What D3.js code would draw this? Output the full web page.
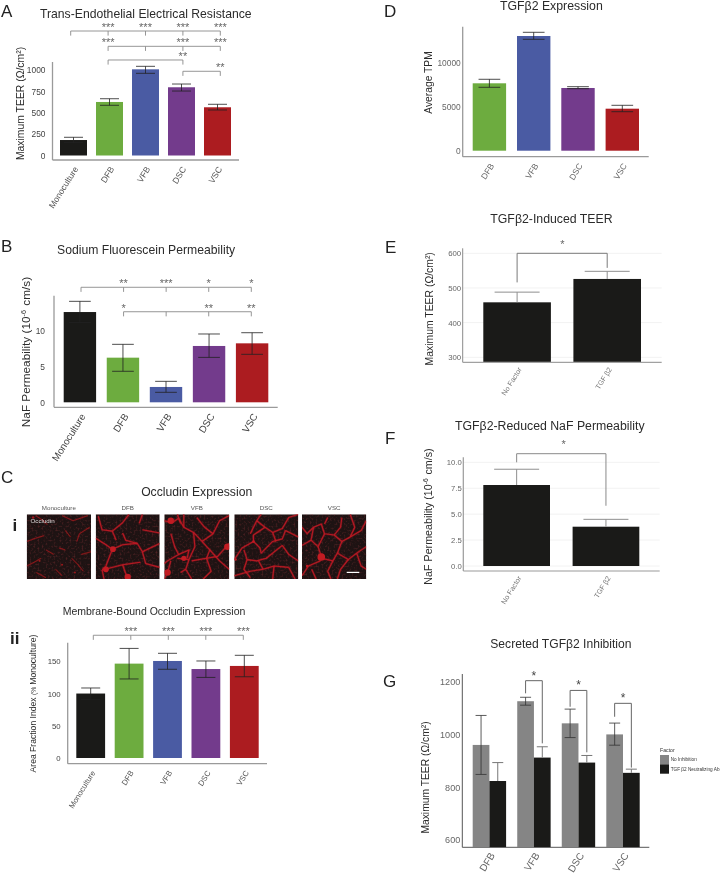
<!DOCTYPE html>
<html><head><meta charset="utf-8">
<script src="https://cdn.jsdelivr.net/npm/d3@7"></script>
<style>
html,body{margin:0;padding:0;background:#fff}
svg{display:block;filter:blur(.35px)}
text{font-family:"Liberation Sans",Arial,sans-serif}
</style></head><body>
<svg id="fig" width="726" height="875"></svg>
<script>
// ---------- data ----------
const cellTypes = ["Monoculture","DFB","VFB","DSC","VSC"];
const stromalTypes = ["DFB","VFB","DSC","VSC"];
const factorTypes = ["No Factor","TGF β2"];
const inhibitionFactors = ["No Inhibition","TGF β2 Neutralizing Ab"];

const teerMean = [181,626,1008,798,564];
const teerHigh = [213,664,1043,836,599];
const teerLow  = [150,587,961,754,532];

const nafMean = [12.66,6.26,2.15,7.9,8.27];
const nafHigh = [14.16,8.13,2.94,9.58,9.76];
const nafLow  = [11.2,4.35,1.4,6.3,6.73];

const occMean = [100,146.4,150.5,138,142.8];
const occHigh = [108.6,170,162.4,150.5,159.3];
const occLow  = [91,122.6,137.6,125,126];

const tpmMean = [7685,13079,7150,4790];
const tpmHigh = [8142,13500,7300,5177];
const tpmLow  = [7229,12700,7070,4447];

const inducedMean = [458.6,526];
const inducedHigh = [488,548];
const reducedMean = [7.81,3.79];
const reducedHigh = [9.33,4.5];

const noInhibMean = [961,1127,1043,1001];
const noInhibHigh = [1073,1142,1097,1044];
const noInhibLow  = [849,1112,989,960];
const abMean = [824,913,894,855];
const abHigh = [894,954,921,869];

// significance brackets: height in axis units, drop positions and stars by category index
const teerSig = [
  {level:1456, from:0, to:4, drops:[0,1,2,3,4], stars:[[1,"***"],[2,"***"],[3,"***"],[4,"***"]]},
  {level:1277, from:1, to:4, drops:[1,2,3,4], stars:[[1,"***"],[3,"***"],[4,"***"]]},
  {level:1117, from:1, to:3, drops:[1,3], stars:[[3,"**"]]},
  {level:985,  from:3, to:4, drops:[3,4], stars:[[4,"**"]]}
];
const nafSig = [
  {level:16.13, from:0, to:4, drops:[0,1,2,3,4], stars:[[1,"**"],[2,"***"],[3,"*"],[4,"*"]]},
  {level:12.7,  from:1, to:4, drops:[1,2,3,4], stars:[[1,"*"],[3,"**"],[4,"**"]]}
];
const occSig = [
  {level:190.4, from:0, to:4, drops:[0,1,2,3,4], stars:[[1,"***"],[2,"***"],[3,"***"],[4,"***"]]}
];
const inducedSig = {level:600, leftEnd:516, rightEnd:558};
const reducedSig = {level:10.83, leftEnd:10, rightEnd:5.81};
const inhibSig = [
  {cat:"VFB", level:1205, leftEnd:1157, rightEnd:967},
  {cat:"DSC", level:1168, leftEnd:1106, rightEnd:933},
  {cat:"VSC", level:1119, leftEnd:1068, rightEnd:875}
];

// occludin micrographs: membrane traces in unit-square coordinates
const micrographLabels = cellTypes;
const micrographTraces = [
 [[[0,.42],[.14,.37],[.27,.33]],[[.14,.02],[.26,.1],[.32,.16]],[[.55,.02],[.72,.1],[.95,.02]],[[.98,.2],[.82,.3],[.78,.42]],[[.7,.68],[.8,.78],[.88,.88]],[[0,.8],[.12,.74],[.22,.68]],[[.3,.55],[.42,.62]],[[.45,.85],[.55,.95]],[[.6,.25],[.68,.35]],[[.15,.9],[.3,.98]],[[.85,.62],[1,.58]],[[.5,.52],[.6,.55]]],
 [[[.04,.03],[.1,.24],[.26,.26],[.42,.13],[.52,0]],[[.26,.26],[.32,.4]],[[0,.37],[.13,.45],[.26,.54],[.42,.47],[.65,.45],[.73,.58],[.78,.76],[1,.82]],[[.26,.54],[.16,.8],[.1,.86]],[[.1,.86],[.42,.78],[.7,.74]],[[.65,.45],[.47,.4],[.42,.29]],[[.68,.14],[.73,0]],[[.73,.24],[1,.29]],[[.73,.58],[1,.45]],[[.1,.86],[.13,1]],[[.42,.78],[.5,1]]],
 [[[0,.1],[.12,.13],[.22,.06],[.3,.2],[.45,.28],[.58,.42],[.7,.55],[.85,.72],[1,.85]],[[.2,0],[.25,.14]],[[.45,.28],[.47,.5],[.38,.7],[.33,.85],[.42,1]],[[.1,.3],[.16,.5],[.22,.62],[.05,.72],[0,.76]],[[.22,.62],[.38,.55],[.35,.68]],[[.38,.7],[.2,.68]],[[.7,.55],[.65,.68],[.42,.72]],[[.65,.68],[.82,.65],[1,.45]],[[.58,.42],[.75,.3],[.85,.1],[1,.02]],[[.3,0],[.3,.2]],[[.5,.05],[.62,.2],[.75,.3]],[[.1,.72],[.05,.9],[0,1]],[[.65,.68],[.72,.88],[.6,1]],[[.25,.9],[.33,.85]]],
 [[[.25,.3],[.35,.1],[.42,0]],[[.35,.1],[.48,.2],[.6,.28],[.75,.22],[.85,.05],[1,0]],[[.48,.2],[.3,.32],[.3,.42],[.4,.52],[.42,.6],[.6,.42],[.75,.38],[.8,.25]],[[.6,.28],[.65,.42]],[[.3,.42],[.12,.52],[0,.7]],[[.15,.55],[.2,.7],[.35,.72],[.5,.68],[.75,.48]],[[.2,.7],[.15,.85],[.25,.98]],[[0,.95],[.25,.88],[.45,.85],[.62,.8],[.85,.82]],[[.45,.85],[.38,.72]],[[.75,.48],[.85,.62],[1,.72]],[[.85,.82],[.95,1]],[[.62,.8],[.6,1]],[[.8,.25],[1,.35]]],
 [[[0,.2],[.08,.3],[.18,.2],[.3,.15],[.35,.3],[.5,.32],[.6,.2],[.62,.05]],[[.18,.2],[.14,.4],[.25,.5],[.35,.3]],[[.14,.4],[0,.48]],[[.25,.5],[.3,.65],[.28,.72],[.1,.8],[0,.95]],[[.5,.32],[.62,.42],[.55,.6],[.48,.72],[.3,.68]],[[.62,.42],[.75,.35],[.92,.25],[1,.1]],[[.75,.35],[.82,.2],[.75,0]],[[.55,.6],[.72,.7],[.85,.6],[1,.5]],[[.72,.7],[.6,.85],[.55,1]],[[.48,.72],[.4,.88],[.45,1]],[[.85,.6],[.92,.8],[1,.85]],[[.15,.85],[.22,1]],[[.4,.05],[.35,.15]]]
];
const micrographBlobs = [
 [[.1,.05,.02],[.55,.78,.015],[.2,.72,.015],[.75,.9,.015]],
 [[.27,.54,.045],[.16,.85,.045],[.5,.97,.05]],
 [[.05,.9,.05],[.97,.5,.05],[.1,.1,.05],[.3,.68,.04]],
 [[.02,.7,.02],[.3,.42,.02]],
 [[.3,.66,.06],[.08,.8,.02]]
];

// ---------- styling and layout ----------
const barColors = {Monoculture:"#1a1a18",DFB:"#6dac3f",VFB:"#4a5ba3",DSC:"#733b8c",VSC:"#ac1c20"};
const black = "#1a1a18", grey = "#858585";
const svg = d3.select("#fig");
const FONT = '"Liberation Sans",Arial,sans-serif';

function label(x,y,t,size,opts={}){
  return svg.append("text").attr("x",x).attr("y",y).attr("font-size",size)
    .attr("fill",opts.fill||"#2b2b2b").attr("font-weight",opts.weight||null)
    .attr("text-anchor",opts.anchor||"start").text(t);
}
function yTitle(x,cy,parts,size,fill){
  const t = svg.append("text").attr("transform",`translate(${x},${cy}) rotate(-90)`)
    .attr("text-anchor","middle").attr("font-size",size).attr("fill",fill||"#2b2b2b");
  parts.forEach(p=>{
    if(typeof p==="string"){ t.append("tspan").text(p); return; }
    if(p.raised!==undefined){
      t.append("tspan").attr("dy",-size*.33).attr("font-size",size*.62).text(p.raised);
      t.append("tspan").attr("dy",size*.33).text("\u200a");
    } else {
      t.append("tspan").attr("font-size",size*p.ratio).text(p.shrunk);
    }
  });
}
function axes(g,o,x,y){
  g.append("line").attr("x1",o.axisX).attr("x2",o.axisX).attr("y1",o.axisTop).attr("y2",o.axisY)
    .attr("stroke",o.axisColor).attr("stroke-width",o.axisWidth);
  g.append("line").attr("x1",o.axisX).attr("x2",o.axisRight).attr("y1",o.axisY).attr("y2",o.axisY)
    .attr("stroke",o.axisColor).attr("stroke-width",o.axisWidth);
  const ya = d3.axisLeft(y).tickValues(o.yTicks).tickSize(o.tick||0).tickPadding(o.tickPad)
    .tickFormat(o.yFormat||d3.format("d"));
  const yg = g.append("g").attr("transform",`translate(${o.axisX},0)`).call(ya);
  yg.select(".domain").remove();
  yg.selectAll("line").attr("stroke",o.axisColor);
  yg.selectAll("text").attr("font-family",FONT).attr("font-size",o.yFont).attr("fill",o.yFill);
  const xa = d3.axisBottom(x).tickSize(0);
  const xg = g.append("g").attr("transform",`translate(0,${o.axisY})`).call(xa);
  xg.select(".domain").remove();
  xg.selectAll("text").attr("font-family",FONT).attr("font-size",o.xFont).attr("fill",o.xFill)
    .attr("text-anchor","end").attr("x",0).attr("y",0).attr("dy",0)
    .attr("transform",`translate(${o.xdx},${o.xdy}) rotate(${o.xRot||-58})`);
}
function errorBars(g,data,x,y,cap,color,op){
  const e = g.append("g").attr("stroke",color).attr("stroke-opacity",op).attr("stroke-width",1);
  data.forEach(d=>{
    const c = x(d.key);
    e.append("line").attr("x1",c).attr("x2",c).attr("y1",y(d.high)).attr("y2",y(d.low));
    e.append("line").attr("x1",c-cap/2).attr("x2",c+cap/2).attr("y1",y(d.high)).attr("y2",y(d.high));
    if(d.low!==d.mean) e.append("line").attr("x1",c-cap/2).attr("x2",c+cap/2).attr("y1",y(d.low)).attr("y2",y(d.low));
  });
}
function bars(g,data,x,y,base,colorOf){
  g.selectAll(null).data(data).join("rect")
    .attr("x",d=>x(d.key)).attr("width",x.bandwidth())
    .attr("y",d=>y(d.mean)).attr("height",d=>y(base)-y(d.mean))
    .attr("fill",d=>colorOf(d));
}
function sigStars(g,sig,bx,y,starGap,color){
  sig.forEach(s=>{
    const ly = y(s.level);
    g.append("line").attr("x1",bx(s.from)).attr("x2",bx(s.to)).attr("y1",ly).attr("y2",ly)
      .attr("stroke",color).attr("stroke-width",.9);
    s.drops.forEach(i=>g.append("line").attr("x1",bx(i)).attr("x2",bx(i)).attr("y1",ly).attr("y2",ly+4.6)
      .attr("stroke",color).attr("stroke-width",.9));
    s.stars.forEach(([i,t])=>g.append("text").attr("x",bx(i)).attr("y",ly-starGap)
      .attr("text-anchor","middle").attr("font-size",11).attr("fill","#666").text(t));
  });
}
function elbow(g,xl,xr,yTop,yL,yR,color,w){
  g.append("path").attr("fill","none").attr("stroke",color).attr("stroke-width",w)
    .attr("d",d3.line()([[xl,yL],[xl,yTop],[xr,yTop],[xr,yR]]));
}
function rows(keys,mean,high,low){return keys.map((k,i)=>({key:k,mean:mean[i],high:high[i],low:low?low[i]:mean[i]}));}
function centre(b){return k=>b(k)+b.bandwidth()/2;}
function band(keys,left,right,barW){
  const n=keys.length, step=(right-left-barW)/(n-1);
  return d3.scaleBand().domain(keys).range([left,right]).paddingInner(1-barW/step).paddingOuter(0);
}

// ---------- A ----------
(function(){
  const g=svg.append("g");
  const x=band(cellTypes,60,231,27), y=d3.scaleLinear().domain([0,1000]).range([155.5,70]);
  const d=rows(cellTypes,teerMean,teerHigh,teerLow);
  axes(g,{axisX:52.5,axisTop:62,axisY:160,axisRight:239,axisColor:"#9a9a9a",axisWidth:1.3,yTicks:[0,250,500,750,1000],
    tickPad:7,yFont:8.4,yFill:"#444",xFont:8.6,xFill:"#555",xdx:5,xdy:9},x,y);
  bars(g,d,x,y,0,r=>barColors[r.key]);
  errorBars(g,d,centre(x),y,19,"#222",.8);
  sigStars(g,teerSig,d3.scaleLinear().domain([0,4]).range([70.7,220.3]),y,0,"#8a8a8a");
  label(40,18,"Trans-Endothelial Electrical Resistance",12.2);
  label(1,17,"A",17,{fill:"#222"});
  yTitle(24,103.5,["Maximum TEER (Ω/cm²)"],10.4);
})();
// ---------- B ----------
(function(){
  const g=svg.append("g");
  const x=band(cellTypes,63.7,268.3,32.4), y=d3.scaleLinear().domain([0,10]).range([402.3,331]);
  const d=rows(cellTypes,nafMean,nafHigh,nafLow);
  axes(g,{axisX:54,axisTop:295.7,axisY:407.3,axisRight:277.7,axisColor:"#9a9a9a",axisWidth:1.3,yTicks:[0,5,10],
    tickPad:9,yFont:8.4,yFill:"#444",xFont:9.8,xFill:"#444",xdx:6,xdy:9},x,y);
  bars(g,d,x,y,0,r=>barColors[r.key]);
  errorBars(g,d,centre(x),y,21.7,"#222",.8);
  sigStars(g,nafSig,d3.scaleLinear().domain([0,4]).range([81,251.3]),y,0,"#8a8a8a");
  label(57,254,"Sodium Fluorescein Permeability",12.2);
  label(1,251.5,"B",17,{fill:"#222"});
  yTitle(30,352,["NaF Permeability (10",{raised:"-6"}," cm/s)"],11.8);
})();
// ---------- C i ----------
(function(){
  const defs=svg.append("defs");
  const f=defs.append("filter").attr("id","speckle").attr("x",0).attr("y",0).attr("width","100%").attr("height","100%");
  f.append("feTurbulence").attr("type","fractalNoise").attr("baseFrequency",.5).attr("numOctaves",2).attr("seed",4);
  f.append("feColorMatrix").attr("values","0 0 0 0 .42  0 0 0 0 .05  0 0 0 0 .06  2 0 0 0 -.95");
  const s=defs.append("filter").attr("id","soft").attr("x","-10%").attr("y","-10%").attr("width","120%").attr("height","120%");
  s.append("feGaussianBlur").attr("stdDeviation",.6);
  const panelX=[26.7,95.7,164.3,234.3,302], w=[64.3,64,65,64,64.3], top=514.3, h=64.7;
  const line=d3.line().curve(d3.curveLinear);
  micrographLabels.forEach((name,i)=>{
    const sx=d3.scaleLinear().domain([0,1]).range([panelX[i],panelX[i]+w[i]]);
    const sy=d3.scaleLinear().domain([0,1]).range([top,top+h]);
    const cid="clipM"+i;
    defs.append("clipPath").attr("id",cid).append("rect").attr("x",panelX[i]).attr("y",top).attr("width",w[i]).attr("height",h);
    const g=svg.append("g").attr("clip-path",`url(#${cid})`);
    g.append("rect").attr("x",panelX[i]).attr("y",top).attr("width",w[i]).attr("height",h).attr("fill","#1d1313");
    g.append("rect").attr("x",panelX[i]).attr("y",top).attr("width",w[i]).attr("height",h).attr("filter","url(#speckle)").attr("opacity",.45);
    const m=g.append("g").attr("filter","url(#soft)");
    const tone=i===0?"#9e181c":"#c21a24";
    [[2.4,.3],[1.1,.9]].forEach(([sw,op])=>{
      m.append("g").selectAll("path").data(micrographTraces[i]).join("path").attr("fill","none")
        .attr("stroke",tone).attr("stroke-opacity",op).attr("stroke-width",i===0?sw*.7:sw).attr("stroke-linejoin","round")
        .attr("d",t=>line(t.map(p=>[sx(p[0]),sy(p[1])])));
    });
    m.append("g").selectAll("circle").data(micrographBlobs[i]).join("circle")
      .attr("cx",b=>sx(b[0])).attr("cy",b=>sy(b[1])).attr("r",b=>b[2]*w[i]).attr("fill",tone);
    label(panelX[i]+w[i]/2,509.6,name,6.2,{anchor:"middle",fill:"#555"});
  });
  label(30.5,522.5,"Occludin",6.2,{fill:"#ddd"});
  svg.append("line").attr("x1",346.7).attr("x2",359.3).attr("y1",572.4).attr("y2",572.4).attr("stroke","#fff").attr("stroke-width",1.2);
  label(1,482.5,"C",17,{fill:"#222"});
  label(196.7,496,"Occludin Expression",12.2,{anchor:"middle"});
  label(12.5,531,"i",17,{weight:"bold",fill:"#222"});
})();
// ---------- C ii ----------
(function(){
  const g=svg.append("g");
  const x=band(cellTypes,76.3,258.7,28.8), y=d3.scaleLinear().domain([0,150]).range([758,661.3]);
  const d=rows(cellTypes,occMean,occHigh,occLow);
  axes(g,{axisX:67.7,axisTop:642.7,axisY:763.7,axisRight:267,axisColor:"#9a9a9a",axisWidth:1.3,yTicks:[0,50,100,150],
    tickPad:7,yFont:7.8,yFill:"#444",xFont:7.8,xFill:"#555",xdx:5,xdy:9},x,y);
  bars(g,d,x,y,0,r=>barColors[r.key]);
  errorBars(g,d,centre(x),y,19,"#222",.8);
  sigStars(g,occSig,d3.scaleLinear().domain([0,4]).range([93.3,243.3]),y,0,"#8a8a8a");
  label(62.7,614.7,"Membrane-Bound Occludin Expression",10.5);
  label(10,644,"ii",17,{weight:"bold",fill:"#222"});
  yTitle(36,703.5,["Area Fraction Index ",{shrunk:"(% ",ratio:.8},"Monoculture)"],8.6);
})();
// ---------- D ----------
(function(){
  const g=svg.append("g");
  const x=band(stromalTypes,472.7,639,33.4), y=d3.scaleLinear().domain([0,10000]).range([150.7,63]);
  const d=rows(stromalTypes,tpmMean,tpmHigh,tpmLow);
  axes(g,{axisX:462.7,axisTop:26.7,axisY:156.7,axisRight:648.7,axisColor:"#9a9a9a",axisWidth:1.3,yTicks:[0,5000,10000],
    tickPad:2,yFont:8.4,yFill:"#666",xFont:8.4,xFill:"#666",xdx:5,xdy:9},x,y);
  bars(g,d,x,y,0,r=>barColors[r.key]);
  errorBars(g,d,centre(x),y,21.7,"#222",.8);
  label(500,10,"TGFβ2 Expression",12.3);
  label(384,17,"D",17,{fill:"#222"});
  yTitle(431.5,82.5,["Average TPM"],10.3);
})();
// ---------- E ----------
(function(){
  const g=svg.append("g");
  const x=band(factorTypes,483.3,641,67.6), y=d3.scaleLinear().domain([300,600]).range([357.3,253.3]);
  const d=rows(factorTypes,inducedMean,inducedHigh);
  [300,400,500,600].forEach(v=>g.append("line").attr("x1",462.7).attr("x2",661.7).attr("y1",y(v)).attr("y2",y(v)).attr("stroke","#f2f2f2"));
  axes(g,{axisX:462.7,axisTop:248.3,axisY:362.3,axisRight:661.7,axisColor:"#8a8a8a",axisWidth:1,yTicks:[300,400,500,600],
    tickPad:1.5,yFont:7.8,yFill:"#666",xFont:7.2,xFill:"#777",xdx:5,xdy:7},x,y);
  bars(g,d,x,y,287,()=>black);
  errorBars(g,d,centre(x),y,45,"#8f8f8f",1);
  const c=centre(x);
  elbow(g,c(factorTypes[0]),c(factorTypes[1]),y(inducedSig.level),y(inducedSig.leftEnd),y(inducedSig.rightEnd),"#7a7a7a",1);
  label(562.3,248,"*",11,{anchor:"middle",fill:"#666"});
  label(490.3,222.7,"TGFβ2-Induced TEER",12.3);
  label(385,252.5,"E",17,{fill:"#222"});
  yTitle(433,308.8,["Maximum TEER (Ω/cm²)"],10.4);
})();
// ---------- F ----------
(function(){
  const g=svg.append("g");
  const x=band(factorTypes,483.3,639.3,66.7), y=d3.scaleLinear().domain([0,10]).range([566,462.3]);
  const d=rows(factorTypes,reducedMean,reducedHigh);
  [0,2.5,5,7.5,10].forEach(v=>g.append("line").attr("x1",463.3).attr("x2",659.7).attr("y1",y(v)).attr("y2",y(v)).attr("stroke","#f2f2f2"));
  axes(g,{axisX:463.3,axisTop:457.3,axisY:571,axisRight:659.7,axisColor:"#9a9a9a",axisWidth:1.2,yTicks:[0,2.5,5,7.5,10],yFormat:d3.format(".1f"),
    tickPad:1.5,yFont:7.7,yFill:"#666",xFont:7.2,xFill:"#777",xdx:5,xdy:7},x,y);
  bars(g,d,x,y,0,()=>black);
  errorBars(g,d,centre(x),y,45,"#8f8f8f",1);
  const c=centre(x);
  elbow(g,c(factorTypes[0]),c(factorTypes[1]),y(reducedSig.level),y(reducedSig.leftEnd),y(reducedSig.rightEnd),"#8a8a8a",1);
  label(563.7,448,"*",11,{anchor:"middle",fill:"#666"});
  label(455,430,"TGFβ2-Reduced NaF Permeability",12.3);
  label(385,443.5,"F",17,{fill:"#222"});
  yTitle(431.5,516.5,["NaF Permeability (10",{raised:"-6"}," cm/s)"],10.7);
})();
// ---------- G ----------
(function(){
  const g=svg.append("g");
  const x=band(stromalTypes,472.7,639.7,33.4);
  const x1=d3.scaleBand().domain(inhibitionFactors).range([0,x.bandwidth()]);
  const y=d3.scaleLinear().domain([600,1200]).range([840,682]);
  axes(g,{axisX:462.3,axisTop:674,axisY:847.3,axisRight:649.3,axisColor:"#555",axisWidth:1,yTicks:[600,800,1000,1200],
    tickPad:2,yFont:9.1,yFill:"#666",xFont:10,xFill:"#666",xdx:6,xdy:8},x,y);
  const series=[[inhibitionFactors[0],noInhibMean,noInhibHigh,noInhibLow,grey,"#333",.8,11],
                [inhibitionFactors[1],abMean,abHigh,abMean,black,"#777",1,11]];
  series.forEach(([name,m,h,l,col,ec,op,cap])=>{
    const gx=k=>x(k)+x1(name);
    const px=Object.assign(k=>gx(k),{bandwidth:()=>x1.bandwidth()});
    const d=rows(stromalTypes,m,h,l);
    bars(g,d,px,y,573,()=>col);
    errorBars(g,d,k=>gx(k)+x1.bandwidth()/2,y,cap,ec,op);
  });
  inhibSig.forEach(s=>{
    const a=x(s.cat)+x1(inhibitionFactors[0])+x1.bandwidth()/2, b=x(s.cat)+x1(inhibitionFactors[1])+x1.bandwidth()/2;
    elbow(g,a,b,y(s.level),y(s.leftEnd),y(s.rightEnd),"#666",1);
    g.append("text").attr("x",(a+b)/2).attr("y",y(s.level)-1).attr("text-anchor","middle").attr("font-size",12).attr("fill","#444").text("*");
  });
  label(490.3,648.3,"Secreted TGFβ2 Inhibition",12.1);
  label(383,686.5,"G",17,{fill:"#222"});
  yTitle(429,777.5,["Maximum TEER (Ω/cm²)"],10.3);
  const ly=d3.scaleBand().domain(inhibitionFactors).range([755,773.7]);
  label(660,752,"Factor",5.2,{fill:"#333"});
  inhibitionFactors.forEach((n,i)=>{
    svg.append("rect").attr("x",660).attr("y",ly(n)).attr("width",9).attr("height",ly.bandwidth()).attr("fill",i?black:grey);
    label(670.7,ly(n)+6.3,n,4.7,{fill:"#333"});
  });
})();
</script></body></html>
